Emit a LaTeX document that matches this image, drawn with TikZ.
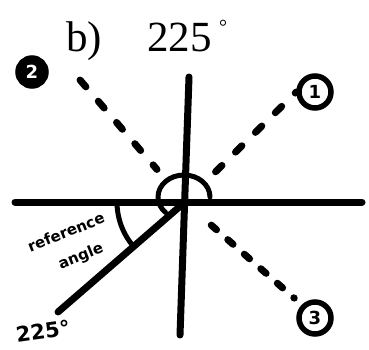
\documentclass[tikz,border=0pt]{standalone}
\usepackage{fontspec}
\setmainfont{Liberation Serif}
\newfontfamily\handfont{DejaVu Sans}
\usetikzlibrary{positioning}

\begin{document}
\begin{tikzpicture}
        [x=1pt, y=-1pt,
         pen/.style={line width=7pt, line cap=round, line join=round},
         dashpen/.style={pen, dash pattern=on 9pt off 19pt},
         ring/.style={circle, draw, line width=5.5pt, minimum size=32pt, inner sep=0pt,
                      font=\handfont\bfseries\fontsize{18}{18}\selectfont},
         scrawl/.style={font=\handfont\bfseries\fontsize{#1}{#1}\selectfont},
         title/.style={inner sep=0pt, anchor=base west, font=\fontsize{43}{48}\selectfont}]
        \useasboundingbox (0,0) rectangle (369,350);
        % heading
        \node (part) at ( 66,52)[title] {b)};
        \node (deg)  at (147,52)[title] {225};
        \node (ring0) at (223,20)[inner sep=0pt, anchor=north, font=\fontsize{20}{20}\selectfont] {°};
        % axes
        \coordinate (O)  at (185,202);
        \coordinate (xl) at ( 15,202);
        \coordinate (xr) at (362,202);
        \coordinate (yt) at (189, 77);
        \coordinate (yb) at (180,335);
        \draw [pen] (xl) -- (xr);
        \draw [pen] (yt) -- (yb);
        % terminal side
        \coordinate (tip) at (58,312);
        \draw [pen] (O) -- (tip);
        \node (lbl) at (43,331)[scrawl=21, rotate=8] {225°};
        % quadrant markers
        \node (c1) at (315, 92)[ring] {1};
        \node (c2) at ( 32, 72)[ring, fill=black, text=white, minimum size=28pt] {2};
        \node (c3) at (315,318)[ring] {3};
        \coordinate (e2) at (80,80);
        \draw [dashpen, shorten <=43pt] (O) -- (c1.west);
        \draw [dashpen, shorten >=43pt] (e2) -- (O);
        \draw [dashpen, dash pattern=on 7pt off 15pt, shorten <=35pt, shorten >=10pt] (O) -- (c3.north west);
        % angles
        \coordinate (Oc) at (184,197);
        \draw [pen, line width=5pt] (Oc) ++(26,0) arc[start angle=0, end angle=-225, x radius=26, y radius=22];
        \draw [pen, line width=5pt] (O) ++(-68,0) arc[start angle=180, end angle=139, radius=68];
        \node (ref) at (66,232)[rotate=22, scrawl=15] {reference};
        \node (ang) at (81,257)[rotate=22, scrawl=15] {angle};
    \end{tikzpicture}
\end{document}
